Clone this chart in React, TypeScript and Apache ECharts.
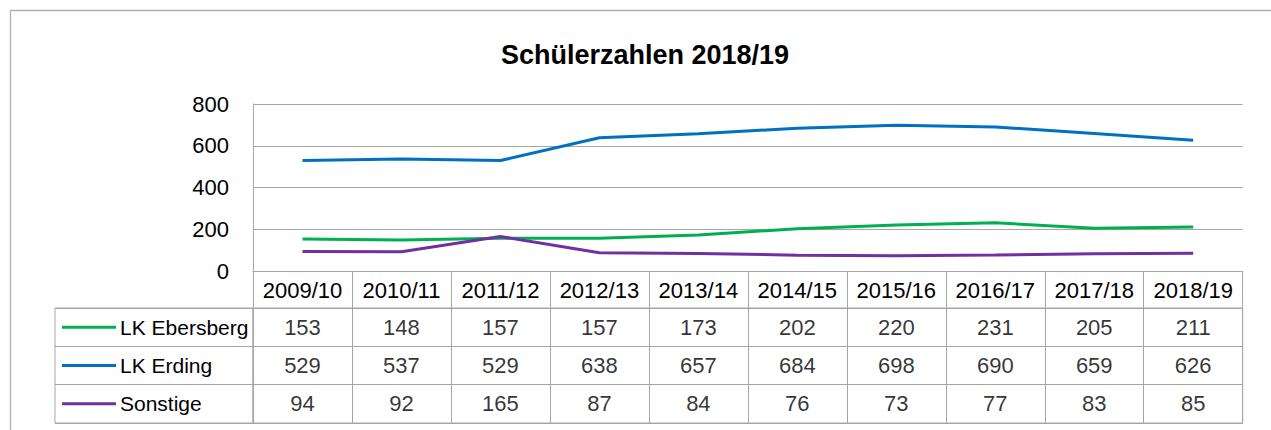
import React, { useEffect, useRef } from "react";
import * as echarts from "echarts";

const categories = ["2009/10", "2010/11", "2011/12", "2012/13", "2013/14", "2014/15", "2015/16", "2016/17", "2017/18", "2018/19"];
const seriesNames = ["LK Ebersberg", "LK Erding", "Sonstige"];
const ebersberg = [153, 148, 157, 157, 173, 202, 220, 231, 205, 211];
const erding = [529, 537, 529, 638, 657, 684, 698, 690, 659, 626];
const sonstige = [94, 92, 165, 87, 84, 76, 73, 77, 83, 85];
const yMin = 0;
const yMax = 800;
const yStep = 200;
const title = "Schülerzahlen 2018/19";

const colors = ["#00b050", "#0070c0", "#7030a0"];
const FONT = "Liberation Sans, Arial, sans-serif";
const GRAY = "#a6a6a6";

export default function App() {
  const ref = useRef<HTMLDivElement>(null);
  useEffect(() => {
    if (!ref.current) return;
    const chart = echarts.init(ref.current, undefined, { renderer: "svg" });
    const values = [ebersberg, erding, sonstige];
    const cellData: any[] = [];
    values.forEach((row, r) => row.forEach((v, c) => cellData.push([c, r, v])));
    const rich: any = { t: { fontSize: 21, fontFamily: FONT, color: "#000", padding: [0, 0, 0, 4] } };
    colors.forEach((c, i) => {
      rich["k" + i] = { width: 54, height: 3, backgroundColor: c };
    });
    const plotW = 989.7;
    chart.setOption({
      animation: false,
      backgroundColor: "#fff",
      textStyle: { fontFamily: FONT },
      title: {
        text: title,
        left: 640,
        top: 36,
        textAlign: "center",
        textStyle: { fontSize: 27, fontWeight: "bold", color: "#000", fontFamily: FONT },
      },
      graphic: [
        {
          type: "rect",
          shape: { x: 10.5, y: 10.5, width: 1400, height: 600 },
          style: { fill: "none", stroke: "#b0b0b0", lineWidth: 1.3 },
          silent: true,
        },
      ],
      grid: [
        { left: 253, top: 104, width: plotW, height: 167 },
        { left: 55, top: 308, width: 198, height: 115, show: true, borderColor: GRAY, borderWidth: 1, backgroundColor: "transparent" },
        { left: 253, top: 308, width: plotW, height: 115, show: true, borderColor: GRAY, borderWidth: 1, backgroundColor: "transparent" },
      ],
      xAxis: [
        {
          gridIndex: 0,
          type: "category",
          data: categories,
          boundaryGap: true,
          axisLine: { show: true, lineStyle: { color: GRAY, width: 1 } },
          axisTick: { show: true, length: 37, interval: 0, lineStyle: { color: GRAY, width: 1 } },
          axisLabel: { interval: 0, fontSize: 22, color: "#000", margin: 8, fontFamily: FONT },
          splitLine: { show: false },
        },
        {
          gridIndex: 1,
          type: "value",
          show: false,
        },
        {
          gridIndex: 2,
          type: "category",
          data: categories,
          boundaryGap: true,
          axisLine: { show: false },
          axisTick: { show: false },
          axisLabel: { show: false },
          splitLine: { show: true, interval: 0, lineStyle: { color: GRAY, width: 1 } },
        },
      ],
      yAxis: [
        {
          gridIndex: 0,
          type: "value",
          min: yMin,
          max: yMax,
          interval: yStep,
          axisLine: { show: true, lineStyle: { color: GRAY, width: 1 } },
          axisTick: { show: false },
          axisLabel: { fontSize: 22, color: "#000", margin: 24, fontFamily: FONT },
          splitLine: { show: true, lineStyle: { color: GRAY, width: 1 } },
        },
        {
          gridIndex: 1,
          type: "category",
          data: seriesNames,
          inverse: true,
          boundaryGap: true,
          axisLine: { show: false },
          axisTick: { show: false },
          axisLabel: {
            inside: true,
            margin: 7,
            align: "left",
            formatter: (v: string, i: number) => `{k${i}|}{t|${v}}`,
            rich,
          },
          splitLine: { show: true, interval: 0, lineStyle: { color: GRAY, width: 1 } },
        },
        {
          gridIndex: 2,
          type: "category",
          data: seriesNames,
          inverse: true,
          boundaryGap: true,
          axisLine: { show: false },
          axisTick: { show: false },
          axisLabel: { show: false },
          splitLine: { show: true, interval: 0, lineStyle: { color: GRAY, width: 1 } },
        },
      ],
      series: [
        ...values.map((d, i) => ({
          type: "line",
          name: seriesNames[i],
          xAxisIndex: 0,
          yAxisIndex: 0,
          data: d,
          showSymbol: false,
          symbol: "none",
          lineStyle: { color: colors[i], width: 3 },
          itemStyle: { color: colors[i] },
        })),
        {
          type: "scatter",
          xAxisIndex: 2,
          yAxisIndex: 2,
          data: cellData,
          symbolSize: 1,
          itemStyle: { color: "rgba(0,0,0,0)" },
          label: {
            show: true,
            position: "inside",
            formatter: (p: any) => String(p.value[2]),
            fontSize: 22,
            color: "#000",
            fontFamily: FONT,
          },
        },
      ],
    });
    return () => chart.dispose();
  }, []);
  return <div ref={ref} style={{ position: "absolute", left: 0, top: 0, width: 1271, height: 430 }} />;
}
